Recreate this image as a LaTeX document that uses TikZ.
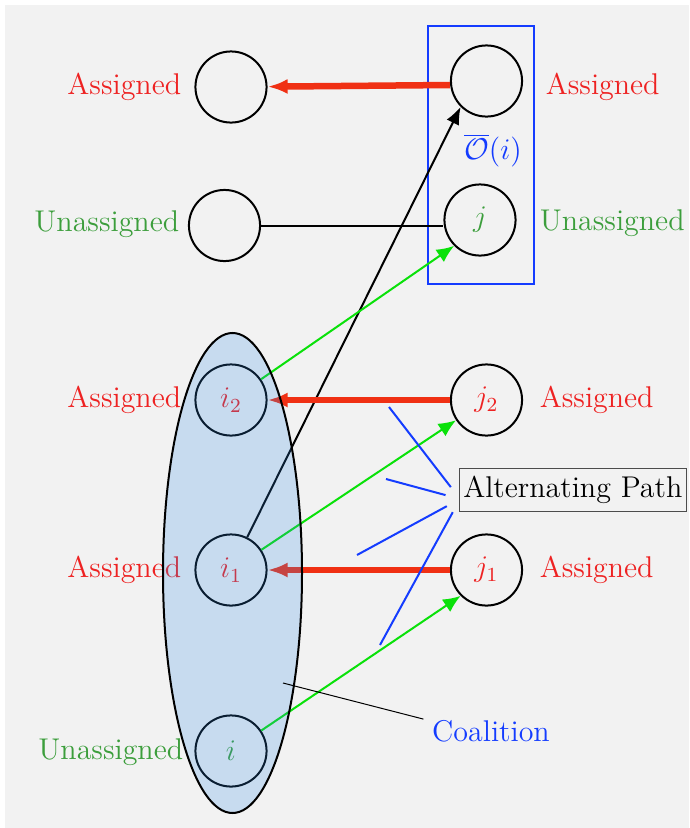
\documentclass[tikz,border=0pt]{standalone}
\usetikzlibrary{arrows.meta,shapes.geometric}
\definecolor{assred}{RGB}{238,34,34}
\definecolor{unagreen}{RGB}{60,158,60}
\definecolor{matchred}{RGB}{240,48,20}
\definecolor{pathgreen}{RGB}{10,225,10}
\definecolor{obblue}{RGB}{20,60,255}
\definecolor{coalblue}{RGB}{50,140,230}
\definecolor{bggray}{RGB}{242,242,242}
\tikzset{
  agent/.style={circle, draw, thick, minimum size=1cm, font=\large},
  lab/.style={font=\large},
  matched/.style={matchred, line width=2.6pt, -{Latex[length=8pt,width=6pt]}},
  proposal/.style={pathgreen, thick, -{Latex[length=7pt,width=6pt]}},
  pathpin/.style={obblue, thick, shorten >=6pt},
}
\begin{document}
\begin{tikzpicture}[x=0.4pt, y=-0.4pt]
                \useasboundingbox (0,0) rectangle (689,828);
                \fill[bggray] (5,5) rectangle (689,828);
                % agents
                \node[agent] (A1) at (231,87) {};
                \node[agent] (U1) at (224.5,225.5) {};
                \node[agent] (O) at (486.5,81) {};
                \node[agent, text=unagreen] (j) at (480,220) {$j$};
                \node[agent, text=assred] (i2) at (231,400) {$i_2$};
                \node[agent, text=assred] (i1) at (231,570) {$i_1$};
                \node[agent, text=unagreen] (i) at (231,751) {$i$};
                \node[agent, text=assred] (j2) at (486.5,400) {$j_2$};
                \node[agent, text=assred] (j1) at (486.5,570) {$j_1$};
                % labels
                \node[lab, assred, anchor=east] (A1lab) at (190,87) {Assigned};
                \node[lab, unagreen, anchor=east] (U1lab) at (188,224) {Unassigned};
                \node[lab, assred, anchor=east] (i2lab) at (190,400) {Assigned};
                \node[lab, assred, anchor=east] (i1lab) at (190,570) {Assigned};
                \node[lab, unagreen, anchor=east] (ilab) at (192,752) {Unassigned};
                \node[lab, assred, anchor=west] (Olab) at (537,87) {Assigned};
                \node[lab, unagreen, anchor=west] (jlab) at (531,223) {Unassigned};
                \node[lab, assred, anchor=west] (j2lab) at (531,400) {Assigned};
                \node[lab, assred, anchor=west] (j1lab) at (531,570) {Assigned};
                % O bar
                \draw[obblue, thick] (428,26) rectangle (534,284);
                \node[lab, obblue] (Obar) at (493,150) {$\overline{\mathcal{O}}(i)$};
                % edges
                \draw[matched] ([yshift=-1.6pt]O.west) -- (A1);
                \draw[thick] (U1) -- (U1 -| j.west);
                \draw[thick, -{Latex[length=7pt,width=5.5pt]}] (i1) -- (O.south west);
                \draw[proposal] (i2) -- (j.south west);
                \draw[matched] (j2) -- (i2);
                \draw[proposal] (i1) -- (j2);
                \draw[matched] (j1) -- (i1);
                \draw[proposal] (i) -- (j1.south west);
                % alternating path
                \node[lab, draw=black!70, inner xsep=1.5pt, inner ysep=3pt, anchor=west] (altpath) at (459,490) {Alternating Path};
                \coordinate (apin) at (460,499);
                \coordinate (ap1) at (389,407);
                \coordinate (ap2) at (386,479);
                \coordinate (ap3) at (357,555);
                \coordinate (ap4) at (380,645);
                \foreach \p in {ap1,ap2,ap3,ap4}
                    \draw[pathpin] (\p) -- (apin);
                % coalition
                \node[ellipse, draw, thick, fill=coalblue, fill opacity=0.22, minimum width=55.6pt, minimum height=192pt] (coal) at (232.5,573) {};
                \coordinate (coalpt) at (283,683);
                \node[lab, obblue] (coallab) at (491,731) {Coalition};
                \draw[thin] (coalpt) -- (coallab.170);
            \end{tikzpicture}
\end{document}
